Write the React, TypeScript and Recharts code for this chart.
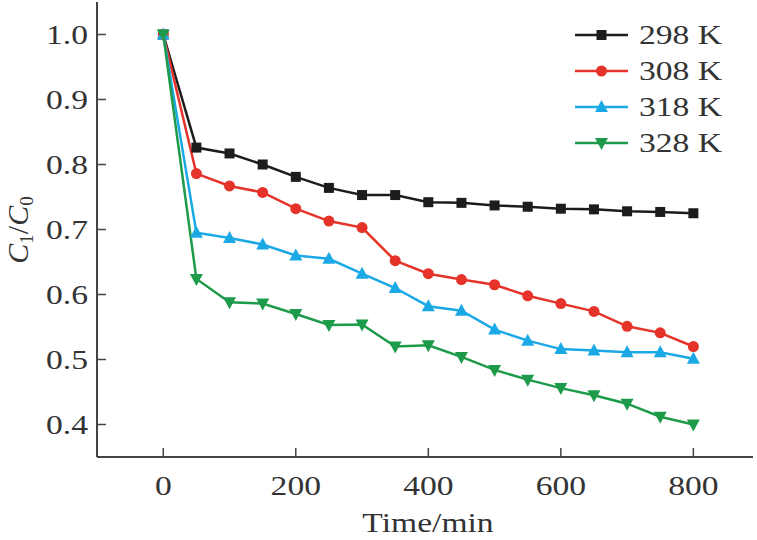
import React from "react";
import { LineChart, Line, XAxis, YAxis, Legend } from "recharts";

// time in minutes
const times = [0, 50, 100, 150, 200, 250, 300, 350, 400, 450, 500, 550, 600, 650, 700, 750, 800];

// C1/C0 at each temperature
const k298 = [1.0, 0.826, 0.817, 0.8, 0.781, 0.764, 0.753, 0.753, 0.742, 0.741, 0.737, 0.735, 0.732, 0.731, 0.728, 0.727, 0.725];
const k308 = [1.0, 0.786, 0.767, 0.757, 0.732, 0.713, 0.703, 0.652, 0.632, 0.623, 0.615, 0.598, 0.586, 0.574, 0.551, 0.541, 0.52];
const k318 = [1.0, 0.695, 0.687, 0.677, 0.66, 0.655, 0.632, 0.61, 0.582, 0.575, 0.546, 0.529, 0.516, 0.514, 0.511, 0.511, 0.501];
const k328 = [1.0, 0.624, 0.588, 0.586, 0.57, 0.553, 0.554, 0.52, 0.522, 0.504, 0.484, 0.469, 0.456, 0.445, 0.432, 0.412, 0.4];

const xTicks = [0, 200, 400, 600, 800];
const yTicks = [0.4, 0.5, 0.6, 0.7, 0.8, 0.9, 1.0];

const data = times.map((t, i) => ({
  t,
  k298: k298[i],
  k308: k308[i],
  k318: k318[i],
  k328: k328[i],
}));

const FONT = "'Liberation Serif', 'Times New Roman', serif";
const AXIS = "#444";

const SERIES = [
  { key: "k298", name: "298 K", color: "#1c1c1c", shape: "square" },
  { key: "k308", name: "308 K", color: "#e5332a", shape: "circle" },
  { key: "k318", name: "318 K", color: "#1ba9e6", shape: "up" },
  { key: "k328", name: "328 K", color: "#1e9b4a", shape: "down" },
];

const Marker = ({ cx, cy, shape, color }: any) => {
  if (cx == null || cy == null) return null;
  if (shape === "square") {
    return <rect x={cx - 5} y={cy - 5} width={10} height={10} fill={color} />;
  }
  if (shape === "circle") {
    return <circle cx={cx} cy={cy} r={5.5} fill={color} />;
  }
  if (shape === "up") {
    return <polygon points={`${cx},${cy - 7} ${cx - 6.5},${cy + 5} ${cx + 6.5},${cy + 5}`} fill={color} />;
  }
  return <polygon points={`${cx},${cy + 7} ${cx - 6.5},${cy - 5} ${cx + 6.5},${cy - 5}`} fill={color} />;
};

const XTick = (props: any) => {
  const { x, y, payload } = props;
  return (
    <g>
      <line x1={x} x2={x} y1={y} y2={y - 9} stroke={AXIS} strokeWidth={1.5} />
      <text
        transform={`translate(${x},${y + 38}) scale(1.2,1)`}
        textAnchor="middle"
        fontFamily={FONT}
        fontSize={28}
        fill="#333"
      >
        {payload.value}
      </text>
    </g>
  );
};

const YTick = (props: any) => {
  const { x, y, payload } = props;
  return (
    <g>
      <line x1={x} x2={x + 9} y1={y} y2={y} stroke={AXIS} strokeWidth={1.5} />
      <text
        transform={`translate(${x - 9},${y + 9.5}) scale(1.2,1)`}
        textAnchor="end"
        fontFamily={FONT}
        fontSize={28}
        fill="#333"
      >
        {Number(payload.value).toFixed(1)}
      </text>
    </g>
  );
};

const LegendBox = () => (
  <div style={{ display: "flex", flexDirection: "column" }}>
    {SERIES.map((s) => (
      <div key={s.key} style={{ display: "flex", alignItems: "center", height: 36 }}>
        <svg width={57} height={36}>
          <line x1={2} x2={55} y1={18} y2={18} stroke={s.color} strokeWidth={2.5} />
          <Marker cx={28.5} cy={18} shape={s.shape} color={s.color} />
        </svg>
        <span
          style={{
            marginLeft: 9,
            fontFamily: FONT,
            fontSize: 28,
            color: "#333",
            display: "inline-block",
            transform: "scaleX(1.2)",
            transformOrigin: "left center",
            whiteSpace: "nowrap",
            lineHeight: "36px",
          }}
        >
          {s.name}
        </span>
      </div>
    ))}
  </div>
);

export default function App() {
  return (
    <div style={{ position: "absolute", left: 0, top: 0, width: 757, height: 540, background: "#fff" }}>
      <LineChart width={757} height={540} data={data} margin={{ top: 2, right: 4, left: 0, bottom: 0 }}>
        <XAxis
          dataKey="t"
          type="number"
          domain={[-100, 890]}
          ticks={xTicks}
          allowDataOverflow
          height={83}
          tickSize={0}
          tickMargin={0}
          tickLine={false}
          axisLine={{ stroke: AXIS, strokeWidth: 2 }}
          tick={<XTick />}
          interval={0}
        />
        <XAxis
          xAxisId="top"
          orientation="top"
          height={0}
          tick={false}
          tickLine={false}
          axisLine={{ stroke: AXIS, strokeWidth: 2 }}
        />
        <YAxis
          type="number"
          domain={[0.35, 1.05]}
          ticks={yTicks}
          allowDataOverflow
          width={97}
          tickSize={0}
          tickMargin={0}
          tickLine={false}
          axisLine={{ stroke: AXIS, strokeWidth: 2 }}
          tick={<YTick />}
          interval={0}
        />
        <YAxis
          yAxisId="right"
          orientation="right"
          width={0}
          tick={false}
          tickLine={false}
          axisLine={{ stroke: AXIS, strokeWidth: 2 }}
        />
        <Legend
          layout="horizontal"
          align="center"
          verticalAlign="middle"
          content={<LegendBox />}
          wrapperStyle={{ top: 17, left: 573, width: "auto" }}
        />
        {SERIES.map((s) => (
          <Line
            key={s.key}
            dataKey={s.key}
            name={s.name}
            stroke={s.color}
            strokeWidth={2.5}
            isAnimationActive={false}
            dot={(p: any) => <Marker key={`${s.key}-${p.index}`} cx={p.cx} cy={p.cy} shape={s.shape} color={s.color} />}
            activeDot={false}
          />
        ))}
        <text
          transform="translate(428,532) scale(1.2,1)"
          textAnchor="middle"
          fontFamily={FONT}
          fontSize={28}
          fill="#333"
        >
          Time/min
        </text>
        <text
          transform="translate(28,230) rotate(-90)"
          textAnchor="middle"
          fontFamily={FONT}
          fontSize={30}
          fill="#333"
        >
          <tspan fontStyle="italic">C</tspan>
          <tspan fontSize={19} dy={5}>1</tspan>
          <tspan dy={-5}>/</tspan>
          <tspan fontStyle="italic">C</tspan>
          <tspan fontSize={19} dy={5}>0</tspan>
        </text>
      </LineChart>
    </div>
  );
}
